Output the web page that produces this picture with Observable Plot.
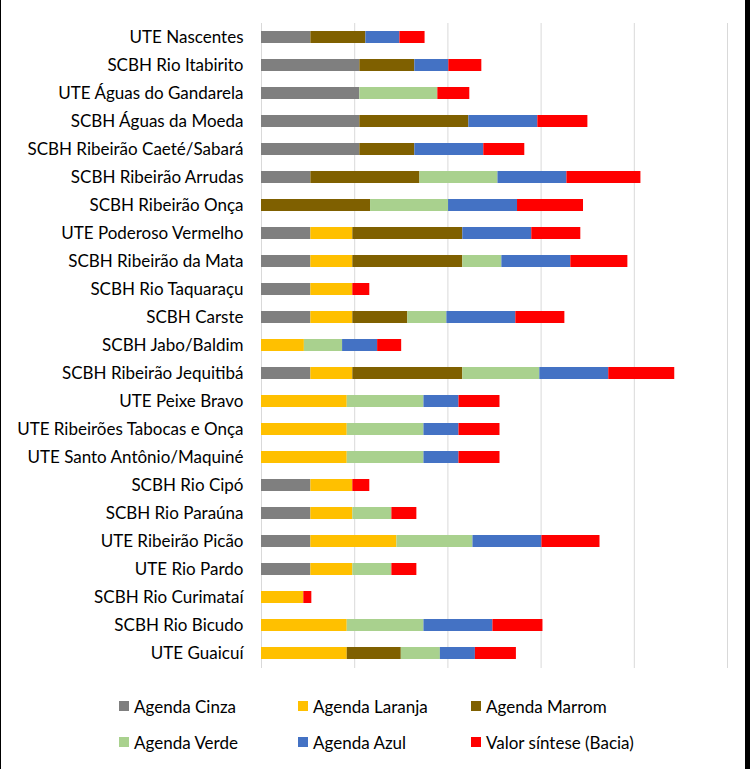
<!DOCTYPE html>
<html>
<head>
<meta charset="utf-8">
<script src="https://cdn.jsdelivr.net/npm/d3@7"></script>
<script src="https://cdn.jsdelivr.net/npm/@observablehq/plot@0.6"></script>
<style>
  html, body { margin: 0; padding: 0; background: #fff; }
  #wrap { position: relative; width: 750px; height: 769px; overflow: hidden; }
  #chart { position: absolute; left: 0; top: 0; width: 750px; }
  #chart svg { max-width: none !important; }
  #bl { position: absolute; left: 0; top: 0; width: 1px; height: 769px; background: #000; }
  #br { position: absolute; left: 745px; top: 0; width: 5px; height: 769px; background: #000; }
  .leg { position: absolute; display: flex; align-items: center; height: 20px;
         font-family: Lato, "Open Sans", sans-serif; font-size: 17px; color: #000; white-space: nowrap; }
  .leg .sw { width: 10px; height: 10px; margin-right: 5px; }
</style>
</head>
<body>
<div id="wrap"><div id="chart"></div><div id="bl"></div><div id="br"></div></div>
<script>
const categories = [
  "UTE Nascentes",
  "SCBH Rio Itabirito",
  "UTE Águas do Gandarela",
  "SCBH Águas da Moeda",
  "SCBH Ribeirão Caeté/Sabará",
  "SCBH Ribeirão Arrudas",
  "SCBH Ribeirão Onça",
  "UTE Poderoso Vermelho",
  "SCBH Ribeirão da Mata",
  "SCBH Rio Taquaraçu",
  "SCBH Carste",
  "SCBH Jabo/Baldim",
  "SCBH Ribeirão Jequitibá",
  "UTE Peixe Bravo",
  "UTE Ribeirões Tabocas e Onça",
  "UTE Santo Antônio/Maquiné",
  "SCBH Rio Cipó",
  "SCBH Rio Paraúna",
  "UTE Ribeirão Picão",
  "UTE Rio Pardo",
  "SCBH Rio Curimataí",
  "SCBH Rio Bicudo",
  "UTE Guaicuí"
];

const seriesNames = ["Agenda Cinza", "Agenda Laranja", "Agenda Marrom", "Agenda Verde", "Agenda Azul", "Valor síntese (Bacia)"];
const seriesColors = ["#7f7f7f", "#ffc000", "#7f6000", "#a9d18e", "#4472c4", "#ff0000"];

const agendaCinza   = [0.53, 1.055, 1.055, 1.055, 1.055, 0.53, 0, 0.53, 0.53, 0.53, 0.53, 0, 0.53, 0, 0, 0, 0.53, 0.53, 0.53, 0.53, 0, 0, 0];
const agendaLaranja = [0, 0, 0, 0, 0, 0, 0, 0.45, 0.45, 0.45, 0.45, 0.46, 0.45, 0.92, 0.92, 0.92, 0.45, 0.45, 0.923, 0.45, 0.454, 0.92, 0.92];
const agendaMarrom  = [0.59, 0.59, 0, 1.17, 0.59, 1.17, 1.17, 1.18, 1.18, 0, 0.59, 0, 1.18, 0, 0, 0, 0, 0, 0, 0, 0, 0, 0.58];
const agendaVerde   = [0, 0, 0.837, 0, 0, 0.837, 0.837, 0, 0.419, 0, 0.419, 0.41, 0.826, 0.823, 0.823, 0.823, 0, 0.419, 0.816, 0.419, 0, 0.823, 0.419];
const agendaAzul    = [0.365, 0.365, 0, 0.74, 0.74, 0.74, 0.74, 0.74, 0.74, 0, 0.74, 0.376, 0.74, 0.376, 0.376, 0.376, 0, 0, 0.74, 0, 0, 0.74, 0.376];
const valorSintese  = [0.27, 0.354, 0.343, 0.537, 0.44, 0.794, 0.708, 0.526, 0.612, 0.182, 0.526, 0.258, 0.708, 0.44, 0.44, 0.44, 0.182, 0.268, 0.623, 0.268, 0.086, 0.537, 0.44];

const xTicks = [0, 1, 2, 3, 4, 5];

const seriesValues = [agendaCinza, agendaLaranja, agendaMarrom, agendaVerde, agendaAzul, valorSintese];
const rows = [];
categories.forEach((c, i) => {
  seriesValues.forEach((vals, s) => {
    if (vals[i] > 0) rows.push({category: c, series: seriesNames[s], value: vals[i]});
  });
});

const chart = Plot.plot({
  width: 750,
  height: 680,
  marginLeft: 261,
  marginRight: 23,
  marginTop: 23,
  marginBottom: 12,
  style: {fontFamily: "Lato, 'Open Sans', sans-serif", fontSize: "17px", color: "#000", background: "transparent", maxWidth: "none"},
  x: {domain: [0, 5], axis: null},
  y: {domain: categories, paddingInner: 0.57, paddingOuter: 0.285, label: null},
  color: {domain: seriesNames, range: seriesColors},
  marks: [
    Plot.ruleX(xTicks, {stroke: "#d9d9d9", strokeWidth: 1, strokeOpacity: 1}),
    Plot.barX(rows, Plot.stackX({y: "category", x: "value", fill: "series", order: seriesNames})),
    Plot.axisY({tickSize: 0, tickPadding: 18, fontSize: 17, label: null})
  ]
});
document.getElementById("chart").appendChild(chart);

// HTML legend
const legLeft = [119, 298, 471];
const legTop = [696, 732];
const wrap = document.getElementById("wrap");
seriesNames.forEach((name, i) => {
  const d = document.createElement("div");
  d.className = "leg";
  d.style.left = legLeft[i % 3] + "px";
  d.style.top = legTop[Math.floor(i / 3)] + "px";
  const sw = document.createElement("span");
  sw.className = "sw";
  sw.style.background = seriesColors[i];
  const t = document.createElement("span");
  t.textContent = name;
  d.appendChild(sw);
  d.appendChild(t);
  wrap.appendChild(d);
});
</script>
</body>
</html>
